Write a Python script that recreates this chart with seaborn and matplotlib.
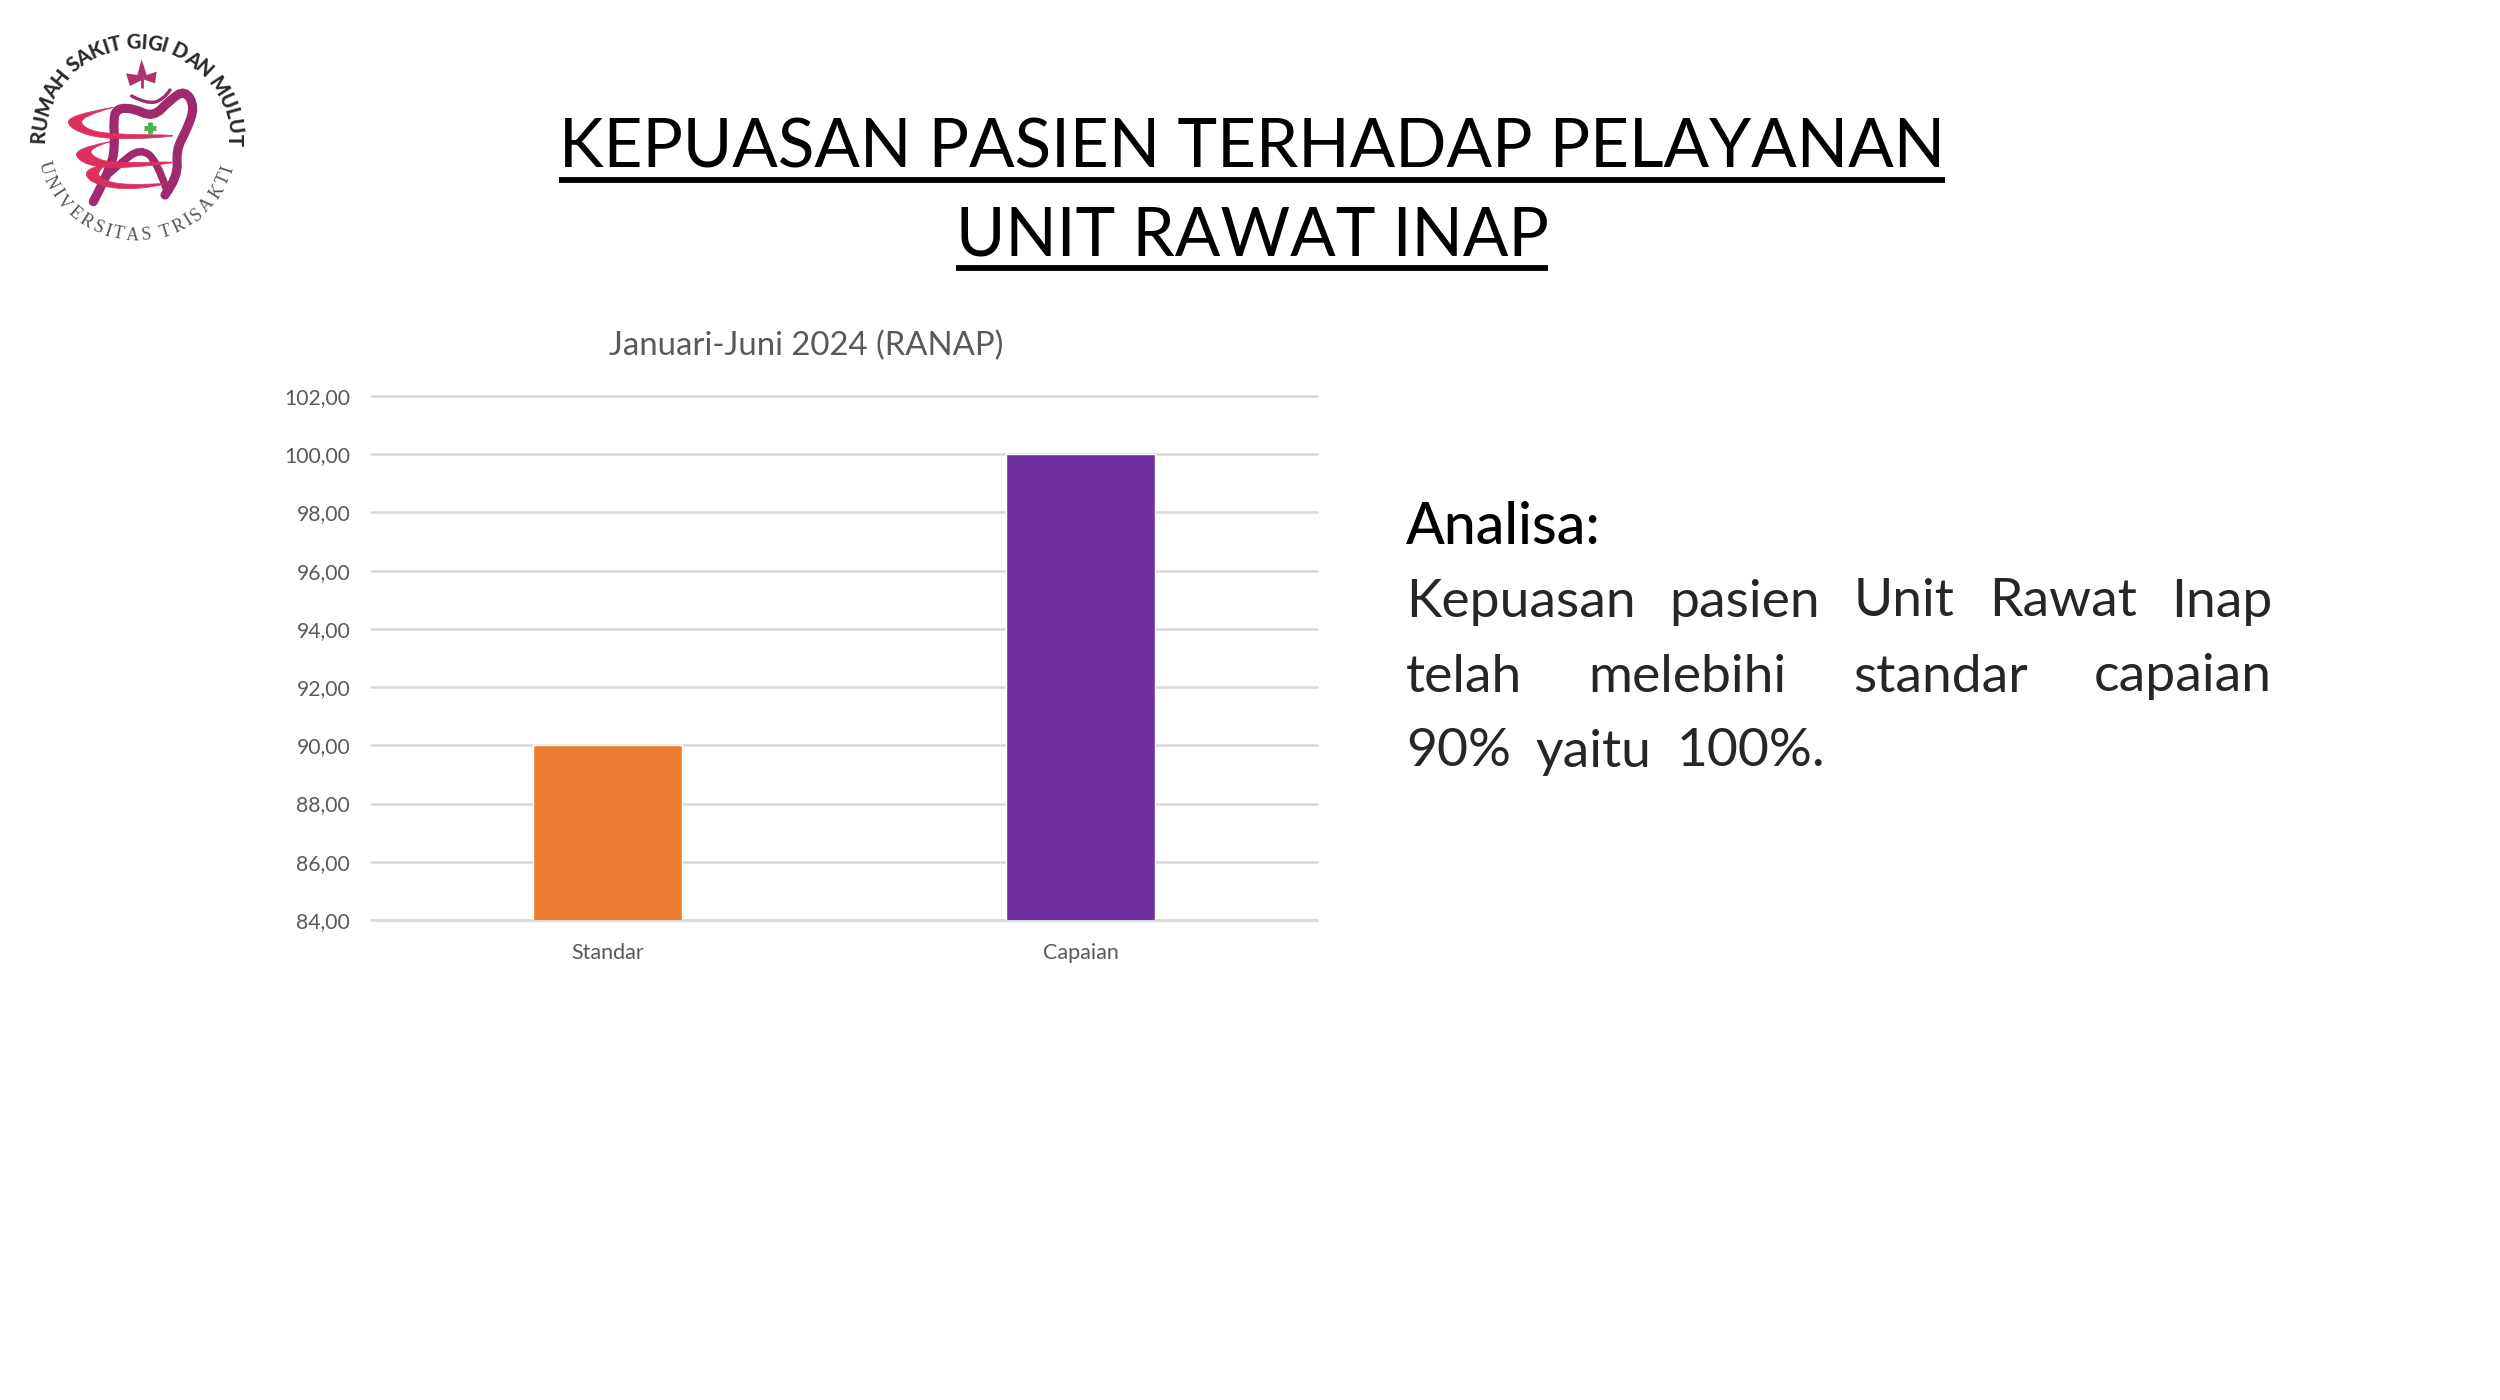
import numpy as np
import pandas as pd
import seaborn as sns
import matplotlib
matplotlib.use('Agg')
import matplotlib.pyplot as plt
from matplotlib.path import Path
from matplotlib.patches import PathPatch

# data
categories = ['Standar', 'Capaian']
values = [90.0, 100.0]
bar_colors = ['#ED7D31', '#7030A0']
y_ticks = [84, 86, 88, 90, 92, 94, 96, 98, 100, 102]

title_lines = ['KEPUASAN PASIEN TERHADAP PELAYANAN', 'UNIT RAWAT INAP']
chart_title = 'Januari-Juni 2024 (RANAP)'
body_head = 'Analisa:'
body_lines = ['Kepuasan pasien Unit Rawat Inap', 'telah melebihi standar capaian', '90% yaitu 100%.']

sns.set_style('white')
plt.rcParams['font.family'] = ['Lato', 'DejaVu Sans']

W, H = 2500, 1400
fig = plt.figure(figsize=(W / 100, H / 100), dpi=100, facecolor='white')

# the chart
ax = fig.add_axes([371 / W, 1 - 920 / H, 946 / W, 524 / H])
df = pd.DataFrame({'cat': categories, 'val': values})
sns.barplot(data=df, x='cat', y='val', hue='cat', palette=bar_colors, width=0.315,
            legend=False, saturation=1, ax=ax, zorder=3)
ax.set_ylim(84, 102)
ax.set_xlim(-0.5, 1.5)
ax.set_yticks(y_ticks)
ax.set_yticklabels(['%d,00' % t for t in y_ticks])
ax.set_xlabel('')
ax.set_ylabel('')
ax.grid(axis='y', color='#D9D9D9', lw=1.8, zorder=0, clip_on=False)
ax.set_axisbelow(True)
sns.despine(ax=ax, left=True, top=True, right=True)
ax.spines['bottom'].set_color('#D9D9D9')
ax.spines['bottom'].set_linewidth(1.8)
ax.tick_params(axis='y', length=0, pad=15, labelsize=15.2, labelcolor='#595959')
ax.tick_params(axis='x', length=0, pad=16.5, labelsize=15.5, labelcolor='#595959')

# everything else in pixel coordinates of the slide
bg = fig.add_axes([0, 0, 1, 1], zorder=-1)
bg.set_xlim(0, W)
bg.set_ylim(H, 0)
bg.axis('off')
rend = fig.canvas.get_renderer()


def text_w(s, **kw):
    t = bg.text(0, 0, s, **kw)
    w = t.get_window_extent(rend).width
    t.remove()
    return w


# slide title with underline
for line, yc, yu in zip(title_lines, [149, 236], [180, 268]):
    t = bg.text(1252, yc, line, fontsize=48.5, ha='center', va='center', color='black')
    bb = t.get_window_extent(rend)
    bg.plot([bb.x0, bb.x1], [yu, yu], color='black', lw=4.2, solid_capstyle='butt')

bg.text(806, 346, chart_title, fontsize=23.7, ha='center', va='center', color='#595959')

# text block on the right, justified by hand
left, right = 1406, 2272
bg.text(left, 527, body_head, fontsize=41, ha='left', va='center', color='black', weight='medium')
for i, (line, yc) in enumerate(zip(body_lines, [602, 677, 752])):
    kw = dict(fontsize=38.5, color='#262626')
    words = line.split(' ')
    if i < 2:
        total = sum(text_w(w, **kw) for w in words)
        gap = (right - left - total) / (len(words) - 1)
    else:
        gap = text_w(' ', **kw) * 1.8
    x = left
    for w in words:
        bg.text(x, yc, w, ha='left', va='center', **kw)
        x += text_w(w, **kw) + gap


# logo, coordinates from the 3x crop
def zp(pts):
    return [(a / 3, b / 3) for a, b in pts]


def curve(pts):
    pts = zp(pts)
    verts = [pts[0]]
    codes = [Path.MOVETO]
    for k in range(1, len(pts) - 1):
        mid = ((pts[k][0] + pts[k + 1][0]) / 2, (pts[k][1] + pts[k + 1][1]) / 2)
        if k == len(pts) - 2:
            mid = pts[k + 1]
        verts += [pts[k], mid]
        codes += [Path.CURVE3, Path.CURVE3]
    return Path(verts, codes)


tooth_c = '#A02A6C'
swoosh_c = '#DC2F5E'
tooth_parts = [
    ([(280, 605), (335, 500), (345, 430), (340, 360), (350, 325), (400, 325), (460, 352), (510, 300), (555, 270), (585, 320), (560, 390), (528, 450), (535, 530), (495, 585)], 11),
    ([(300, 545), (360, 490), (420, 445), (470, 480), (500, 570)], 9),
    ([(395, 288), (440, 312), (490, 300), (510, 270)], 4),
]
for pts, lw in tooth_parts:
    bg.add_patch(PathPatch(curve(pts), fc='none', ec=tooth_c, lw=lw * 0.6, capstyle='round'))

swooshes = [
    [(340, 322), (200, 345), (210, 390), (330, 422), (585, 405), (330, 404), (250, 385), (240, 350), (340, 322)],
    [(330, 425), (220, 445), (240, 490), (340, 508), (580, 483), (340, 490), (280, 472), (267, 445), (330, 425)],
    [(320, 492), (250, 505), (270, 550), (380, 572), (530, 548), (380, 556), (305, 540), (290, 515), (320, 492)],
]
for pts in swooshes:
    bg.add_patch(PathPatch(curve(pts), fc=swoosh_c, ec=swoosh_c, lw=0.5))

for a, b in [([433, 467], [383, 383]), ([450, 450], [367, 401])]:
    bg.plot(np.array(a) / 3, np.array(b) / 3, color='#4CAF50', lw=3.5, solid_capstyle='butt')

crown = [(425, 178), (440, 225), (470, 215), (465, 250), (430, 238), (390, 258), (378, 220), (412, 225), (425, 178)]
bg.fill(*zip(*zp(crown)), color='#B0336F', lw=0)
bg.plot(*zip(*zp([(425, 230), (425, 262)])), color='#B0336F', lw=2)


def arc_text(s, a0, a1, r, flip, **kw):
    # letters spaced by their measured width between two angles
    cx, cy = 410 / 3, 420 / 3
    ws = np.array([text_w(c if c != ' ' else 'i', **kw) for c in s])
    mids = np.cumsum(ws) - ws / 2
    angs = a0 + (a1 - a0) * (mids - mids[0]) / (mids[-1] - mids[0])
    for c, ang in zip(s, angs):
        if c == ' ':
            continue
        rad = np.radians(ang)
        x = cx + r * np.cos(rad)
        y = cy - r * np.sin(rad)
        rot = ang + 90 if flip else ang - 90
        bg.text(x, y, c, rotation=rot, ha='center', va='center', rotation_mode='anchor', **kw)


arc_text('RUMAH SAKIT GIGI DAN MULUT', 178, 0, 98, False, fontsize=14.5, weight='black', color='#2A2A2A')
arc_text('UNIVERSITAS TRISAKTI', 197, 342, 96, True, fontsize=13, family='Liberation Serif', color='#555555')

fig.savefig('out.png', dpi=100, facecolor='white')
